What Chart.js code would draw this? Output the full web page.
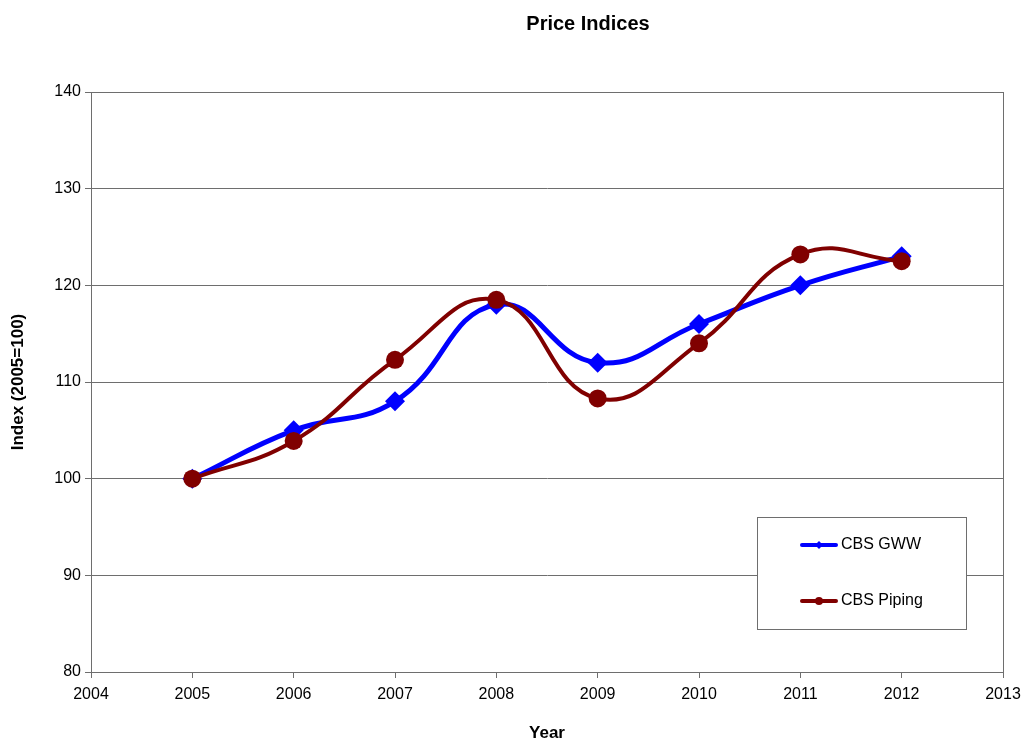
<!DOCTYPE html>
<html>
<head>
<meta charset="utf-8">
<script src="https://cdn.jsdelivr.net/npm/chart.js@4.4.1/dist/chart.umd.min.js"></script>
<style>
html,body{margin:0;padding:0;background:#fff;}
#wrap{width:1024px;height:740px;position:relative;}
</style>
</head>
<body>
<div id="wrap"><canvas id="c" width="1024" height="740"></canvas></div>
<script>
const years = [2005, 2006, 2007, 2008, 2009, 2010, 2011, 2012];
const gwwValues = [100, 105, 108, 118, 112, 116, 120, 123];
const pipingValues = [100, 103.9, 112.3, 118.5, 108.3, 114.0, 123.2, 122.5];
const seriesLabels = ['CBS GWW', 'CBS Piping'];
const chartTitle = 'Price Indices';
const xTitle = 'Year';
const yTitle = 'Index (2005=100)';

const FONT = "'Liberation Sans', Arial, sans-serif";
const GRID = '#6e6e6e';

const toPoints = (vals) => years.map((y, i) => ({x: y, y: vals[i]}));

const framePlugin = {
  id: 'frame',
  beforeDatasetsDraw(chart) {
    const {ctx, chartArea: a} = chart;
    ctx.save();
    ctx.strokeStyle = GRID;
    ctx.lineWidth = 1;
    ctx.strokeRect(Math.round(a.left) + 0.5, Math.round(a.top) + 0.5, Math.round(a.right - a.left), Math.round(a.bottom - a.top));
    ctx.restore();
  }
};

const titlePlugin = {
  id: 'customTitle',
  afterDraw(chart) {
    const {ctx} = chart;
    ctx.save();
    ctx.font = "bold 20px " + FONT;
    ctx.fillStyle = '#000';
    ctx.textAlign = 'center';
    ctx.textBaseline = 'middle';
    ctx.fillText(chartTitle, 588, 24);
    ctx.restore();
  }
};

const legendPlugin = {
  id: 'boxLegend',
  afterDraw(chart) {
    const {ctx} = chart;
    const bx = 757.5, by = 517.5, bw = 209, bh = 112;
    ctx.save();
    ctx.fillStyle = '#fff';
    ctx.fillRect(bx, by, bw, bh);
    ctx.strokeStyle = GRID;
    ctx.lineWidth = 1;
    ctx.strokeRect(bx, by, bw, bh);
    const rows = [545, 601];
    chart.data.datasets.forEach((ds, i) => {
      const y = rows[i];
      ctx.strokeStyle = ds.borderColor;
      ctx.lineWidth = 4;
      ctx.lineCap = 'round';
      ctx.beginPath();
      ctx.moveTo(802, y);
      ctx.lineTo(836, y);
      ctx.stroke();
      ctx.fillStyle = ds.borderColor;
      ctx.beginPath();
      if (ds.pointStyle === 'rectRot') {
        ctx.moveTo(819, y - 4); ctx.lineTo(823, y); ctx.lineTo(819, y + 4); ctx.lineTo(815, y);
        ctx.closePath();
      } else {
        ctx.arc(819, y, 4, 0, Math.PI * 2);
      }
      ctx.fill();
      ctx.fillStyle = '#000';
      ctx.font = "16px " + FONT;
      ctx.textAlign = 'left';
      ctx.textBaseline = 'middle';
      ctx.fillText(ds.label, 841, y);
    });
    ctx.restore();
  }
};

new Chart(document.getElementById('c'), {
  type: 'line',
  data: {
    datasets: [
      {
        label: seriesLabels[0],
        data: toPoints(gwwValues),
        borderColor: '#0000FF',
        backgroundColor: '#0000FF',
        borderWidth: 5,
        pointStyle: 'rectRot',
        pointRadius: 10,
        pointBorderWidth: 0,
        tension: 0.45,
        order: 2
      },
      {
        label: seriesLabels[1],
        data: toPoints(pipingValues),
        borderColor: '#800000',
        backgroundColor: '#800000',
        borderWidth: 4,
        pointStyle: 'circle',
        pointRadius: 9,
        pointBorderWidth: 0,
        tension: 0.45,
        order: 1
      }
    ]
  },
  options: {
    responsive: false,
    animation: false,
    devicePixelRatio: 1,
    layout: {padding: {left: 0, right: 21, top: 92, bottom: 0}},
    plugins: {
      legend: {display: false},
      title: {display: false},
      tooltip: {enabled: false}
    },
    scales: {
      x: {
        type: 'linear',
        min: 2004,
        max: 2013,
        ticks: {
          stepSize: 1,
          color: '#000',
          font: {family: FONT, size: 16},
          padding: 7,
          maxRotation: 0,
          callback: (v) => String(v)
        },
        grid: {display: true, drawOnChartArea: false, drawTicks: true, tickLength: 6, color: GRID},
        border: {display: true, color: GRID},
        title: {display: true, text: xTitle, color: '#000', font: {family: FONT, size: 17, weight: 'bold'}, padding: {top: 18, bottom: -4}},
        afterFit(scale) { scale.height = 68; scale.paddingRight = 0; scale.paddingLeft = 0; }
      },
      y: {
        min: 80,
        max: 140,
        ticks: {
          stepSize: 10,
          color: '#000',
          font: {family: FONT, size: 16},
          padding: 4
        },
        grid: {display: true, drawOnChartArea: true, drawTicks: true, tickLength: 6, color: GRID},
        border: {display: true, color: GRID},
        title: {display: true, text: yTitle, color: '#000', font: {family: FONT, size: 17, weight: 'bold'}, padding: {top: 8, bottom: 0}},
        afterFit(scale) { scale.width = 91; scale.paddingTop = 0; scale.paddingBottom = 0; }
      }
    }
  },
  plugins: [framePlugin, titlePlugin, legendPlugin]
});
</script>
</body>
</html>
